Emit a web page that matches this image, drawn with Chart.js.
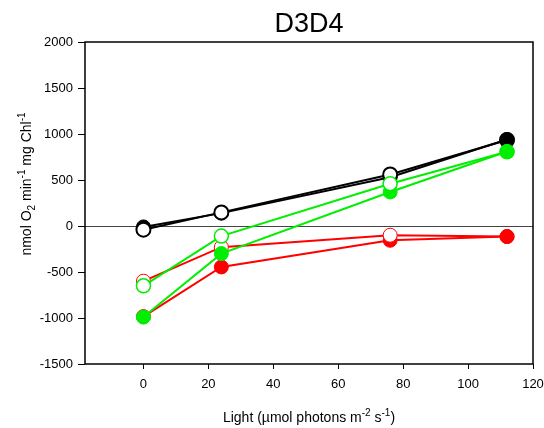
<!DOCTYPE html>
<html>
<head>
<meta charset="utf-8">
<script src="https://cdn.jsdelivr.net/npm/chart.js@4/dist/chart.umd.min.js"></script>
<style>
  html, body { margin: 0; padding: 0; background: #ffffff; }
  #wrap { width: 544px; height: 428px; }
</style>
</head>
<body>
<div id="wrap"><canvas id="c" width="544" height="428"></canvas></div>
<script>
// Light levels (µmol photons m-2 s-1)
const light = [0, 24, 76, 112];

// O2 evolution rates (nmol O2 min-1 mg Chl-1)
const blackFilled = [-10, 140, 530, 940];
const blackOpen   = [-40, 148, 560, 935];
const greenFilled = [-990, -300, 370, 810];
const greenOpen   = [-650, -110, 460, 808];
const redFilled   = [-985, -445, -155, -115];
const redOpen     = [-600, -230, -100, -115];

const yTicks = [-1500, -1000, -500, 0, 500, 1000, 1500, 2000];
const xTicks = [0, 20, 40, 60, 80, 100, 120];

const chartTitle = 'D3D4';
const FONT = '"Liberation Sans", Arial, Helvetica, sans-serif';

const RED = '#ff0000';
const GREEN = '#00ee00';
const BLACK = '#000000';

function pts(ys) { return light.map((x, i) => ({ x: x, y: ys[i] })); }

// open series: white-centred markers, except the shared end point at the top light level
function series(ys, color, open, bw) {
  const last = light.length - 1;
  return {
    data: pts(ys),
    showLine: true,
    borderColor: color,
    borderWidth: 2,
    tension: 0,
    pointRadius: 7,
    pointHoverRadius: 7,
    pointBackgroundColor: light.map((_, i) => (open && i < last) ? '#ffffff' : color),
    pointBorderColor: color,
    pointBorderWidth: open ? bw : 1,
    pointHoverBorderWidth: open ? bw : 1
  };
}

// draws a run of text pieces with sub/superscripts, centred on (0,0)
function drawRich(ctx, parts, size) {
  const small = Math.round(size * 0.68);
  let total = 0;
  parts.forEach(p => {
    ctx.font = (p.s ? small : size) + 'px ' + FONT;
    p.w = ctx.measureText(p.t).width;
    total += p.w;
  });
  let x = -total / 2;
  ctx.textBaseline = 'alphabetic';
  ctx.textAlign = 'left';
  parts.forEach(p => {
    ctx.font = (p.s ? small : size) + 'px ' + FONT;
    let dy = 0;
    if (p.s === 'sup') dy = -size * 0.4;
    if (p.s === 'sub') dy = size * 0.25;
    ctx.fillText(p.t, x, dy);
    x += p.w;
  });
}

const decor = {
  id: 'decor',
  beforeDatasetsDraw(chart) {
    const { ctx, chartArea: a } = chart;
    ctx.save();
    ctx.strokeStyle = '#000';
    ctx.lineWidth = 1.5;
    ctx.strokeRect(a.left, a.top, a.right - a.left, a.bottom - a.top);
    ctx.restore();
  },
  afterDraw(chart) {
    const { ctx, chartArea: a } = chart;
    const cx = (a.left + a.right) / 2;
    ctx.save();
    ctx.fillStyle = '#000';
    // title
    ctx.font = '27px ' + FONT;
    ctx.textAlign = 'center';
    ctx.textBaseline = 'alphabetic';
    ctx.fillText(chartTitle, cx, 32);
    // x axis title
    ctx.save();
    ctx.translate(cx, 422);
    drawRich(ctx, [
      { t: 'Light (µmol photons m' },
      { t: '-2', s: 'sup' },
      { t: ' s' },
      { t: '-1', s: 'sup' },
      { t: ')' }
    ], 14);
    ctx.restore();
    // y axis title
    ctx.save();
    ctx.translate(31, 184);
    ctx.rotate(-Math.PI / 2);
    drawRich(ctx, [
      { t: 'nmol O' },
      { t: '2', s: 'sub' },
      { t: ' min' },
      { t: '-1', s: 'sup' },
      { t: ' mg Chl' },
      { t: '-1', s: 'sup' }
    ], 14);
    ctx.restore();
    ctx.restore();
  }
};

new Chart(document.getElementById('c'), {
  type: 'scatter',
  data: {
    datasets: [
      series(greenOpen, GREEN, true, 1.5),
      series(greenFilled, GREEN, false),
      series(redOpen, RED, true, 1),
      series(redFilled, RED, false),
      series(blackOpen, BLACK, true, 2),
      series(blackFilled, BLACK, false)
    ]
  },
  options: {
    responsive: false,
    animation: false,
    events: [],
    layout: { padding: { top: 42, right: 11, left: 0, bottom: 0 } },
    plugins: {
      legend: { display: false },
      tooltip: { enabled: false },
      title: { display: false }
    },
    scales: {
      x: {
        type: 'linear',
        min: -18,
        max: 120,
        afterBuildTicks(scale) { scale.ticks = xTicks.map(v => ({ value: v })); },
        afterFit(scale) {
          scale.height = 64;
          scale.paddingLeft = 0;
          scale.paddingRight = 0;
        },
        border: { display: false },
        grid: {
          drawOnChartArea: false,
          drawTicks: true,
          tickLength: 5,
          tickColor: '#000',
          lineWidth: 1
        },
        ticks: {
          color: '#000',
          padding: 8,
          maxRotation: 0,
          font: { family: FONT, size: 13 }
        }
      },
      y: {
        type: 'linear',
        min: -1500,
        max: 2000,
        afterBuildTicks(scale) { scale.ticks = yTicks.map(v => ({ value: v })); },
        afterFit(scale) { scale.width = 85; },
        border: { display: false },
        grid: {
          drawOnChartArea: true,
          drawTicks: true,
          tickLength: 7,
          tickColor: '#000',
          lineWidth: 1,
          color: ctx => (ctx.tick && ctx.tick.value === 0) ? '#444444' : 'rgba(0,0,0,0)'
        },
        ticks: {
          color: '#000',
          padding: 5,
          font: { family: FONT, size: 13 },
          callback: v => String(v)
        }
      }
    }
  },
  plugins: [decor]
});
</script>
</body>
</html>
